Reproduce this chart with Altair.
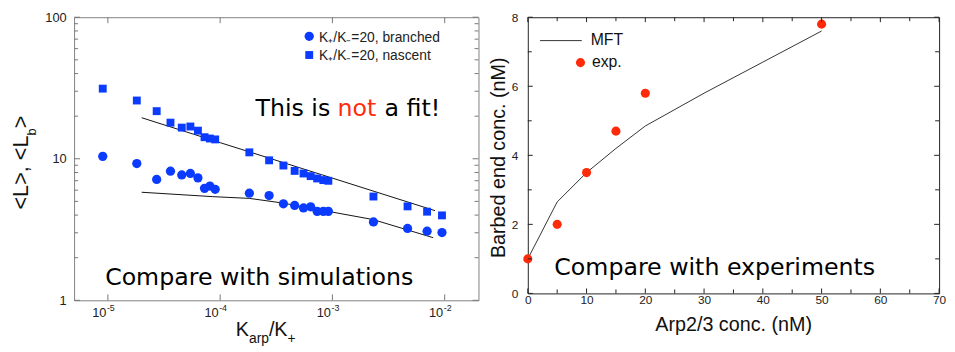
import altair as alt
import pandas as pd

# ---------------- data: left panel (log-log) ----------------
k_ratio = [9e-6, 1.81e-5, 2.72e-5, 3.61e-5, 4.55e-5, 5.43e-5, 6.34e-5, 7.26e-5, 8.1e-5, 9.03e-5,
           1.82e-4, 2.73e-4, 3.66e-4, 4.61e-4, 5.53e-4, 6.4e-4, 7.31e-4, 8.3e-4, 9.2e-4,
           2.32e-3, 4.67e-3, 6.97e-3, 9.46e-3]
nascent = [31.3, 25.8, 21.7, 18.0, 16.6, 16.9, 15.8, 14.2, 13.9, 13.7,
           11.1, 9.75, 8.96, 8.21, 7.87, 7.54, 7.26, 7.07, 6.99,
           5.41, 4.61, 4.23, 3.98]
branched = [10.4, 9.25, 7.14, 8.17, 7.69, 7.87, 7.33, 6.18, 6.42, 6.09,
            5.71, 5.50, 4.81, 4.68, 4.49, 4.58, 4.25, 4.25, 4.25,
            3.58, 3.22, 3.08, 3.01]
theory_nascent_x = [2e-5, 1e-4, 1e-3, 8.2e-3]
theory_nascent_y = [19.5, 13.0, 7.3, 4.3]
theory_branched_x = [2e-5, 8.6e-5, 1.82e-4, 3.6e-4, 2.3e-3, 7.9e-3]
theory_branched_y = [5.8, 5.4, 5.25, 4.87, 3.72, 2.77]

left_x_ticks = [1e-5, 1e-4, 1e-3, 1e-2]
left_x_base = ["10", "10", "10", "10"]
left_x_exp = ["-5", "-4", "-3", "-2"]
left_y_major = [1, 10, 100]
left_y_minor = [2, 3, 4, 5, 6, 7, 8, 9, 20, 30, 40, 50, 60, 70, 80, 90]

# ---------------- data: right panel ----------------
arp_conc = [0, 5, 10, 15, 20, 50]
barbed_exp = [1.0, 2.0, 3.5, 4.7, 5.8, 7.8]
mft_x = [0, 5, 10, 15, 20, 30, 40, 50]
mft_y = [1.0, 2.65, 3.5, 4.2, 4.85, 5.8, 6.7, 7.6]

right_x_major = [0, 10, 20, 30, 40, 50, 60, 70]
right_x_minor = [5, 15, 25, 35, 45, 55, 65]
right_y_major = [0, 2, 4, 6, 8]
right_y_minor = [1, 3, 5, 7]

BLUE = "#0b3bff"
RED = "#ff2a0a"
SANS = "Liberation Sans"
COMIC = "DejaVu Sans"

W1, H1 = 410, 287
W2, H2 = 417, 280


def txt(s, x, y, size, color="#000", font=SANS, align="left", baseline="alphabetic", angle=0):
    return alt.Chart(pd.DataFrame({"t": [s]})).mark_text(
        align=align, baseline=baseline, fontSize=size, font=font, color=color, angle=angle
    ).encode(x=alt.value(x), y=alt.value(y), text="t:N")


# ---------------- left chart ----------------
xs1 = alt.Scale(type="log", domain=[5e-6, 2e-2])
ys1 = alt.Scale(type="log", domain=[1, 100])
xax1 = alt.Axis(values=left_x_ticks, labels=False, ticks=False, domain=False, grid=False,
                title=None)
yax1 = alt.Axis(values=left_y_major, format="d", ticks=False, domain=False, grid=False,
                title=None, labelFont=SANS, labelFontSize=13, labelColor="#222",
                labelPadding=8)

pts = pd.DataFrame({"x": k_ratio, "nascent": nascent, "branched": branched})
lines = pd.concat([
    pd.DataFrame({"x": theory_nascent_x, "y": theory_nascent_y, "s": "nascent"}),
    pd.DataFrame({"x": theory_branched_x, "y": theory_branched_y, "s": "branched"}),
])

X1 = lambda f: alt.X(f, scale=xs1, axis=xax1)
Y1 = lambda f: alt.Y(f, scale=ys1, axis=yax1)

line_layer = alt.Chart(lines).mark_line(color="#111", strokeWidth=1).encode(
    x=X1("x:Q"), y=Y1("y:Q"), detail="s:N")
sq_layer = alt.Chart(pts).mark_square(size=64, color=BLUE, opacity=1).encode(
    x=X1("x:Q"), y=Y1("nascent:Q"))
ci_layer = alt.Chart(pts).mark_circle(size=88, color=BLUE, opacity=1).encode(
    x=X1("x:Q"), y=Y1("branched:Q"))

TC1 = "#777"
def yticks1(vals, ln):
    d = pd.DataFrame({"v": vals})
    a = alt.Chart(d).mark_rule(color=TC1, strokeWidth=1).encode(
        y=Y1("v:Q"), x=alt.value(0), x2=alt.value(ln))
    b = alt.Chart(d).mark_rule(color=TC1, strokeWidth=1).encode(
        y=Y1("v:Q"), x=alt.value(W1), x2=alt.value(W1 - ln))
    return [a, b]

def xticks1(vals, ln):
    d = pd.DataFrame({"v": vals})
    a = alt.Chart(d).mark_rule(color=TC1, strokeWidth=1).encode(
        x=X1("v:Q"), y=alt.value(H1), y2=alt.value(H1 - ln))
    b = alt.Chart(d).mark_rule(color=TC1, strokeWidth=1).encode(
        x=X1("v:Q"), y=alt.value(0), y2=alt.value(ln))
    return [a, b]

left_layers = [line_layer, sq_layer, ci_layer]
left_layers += yticks1(left_y_major, 6) + yticks1(left_y_minor, 4) + xticks1(left_x_ticks, 6)

# x tick labels as 10^n with superscript
xl = pd.DataFrame({"v": left_x_ticks, "b": left_x_base, "e": left_x_exp})
left_layers.append(alt.Chart(xl).mark_text(align="right", baseline="alphabetic", fontSize=13,
                                           font=SANS, color="#222", dx=-1.5)
                   .encode(x=X1("v:Q"), y=alt.value(H1 + 17.3), text="b:N"))
left_layers.append(alt.Chart(xl).mark_text(align="left", baseline="alphabetic", fontSize=9,
                                           font=SANS, color="#222", dx=-1)
                   .encode(x=X1("v:Q"), y=alt.value(H1 + 11.3), text="e:N"))

# legend
left_layers.append(alt.Chart(pd.DataFrame({"a": [0]})).mark_circle(size=88, color=BLUE, opacity=1)
                   .encode(x=alt.value(238.4), y=alt.value(19.3)))
left_layers.append(alt.Chart(pd.DataFrame({"a": [0]})).mark_square(size=64, color=BLUE, opacity=1)
                   .encode(x=alt.value(238.4), y=alt.value(38.3)))
left_layers.append(txt("K₊/K₋=20, branched", 248.4, 25, 14, "#222"))
left_layers.append(txt("K₊/K₋=20, nascent", 248.4, 43.3, 14, "#222"))

# annotations
left_layers.append(txt("This is", 259.7, 100, 24, "#000", COMIC, align="right"))
left_layers.append(txt("not", 286.7, 100, 24, RED, COMIC, align="center"))
left_layers.append(txt("a fit!", 314.7, 100, 24, "#000", COMIC, align="left"))
left_layers.append(txt("Compare with simulations", 187.7, 271, 24, "#000", COMIC, align="center"))

# y title  <L>, <L_b>
left_layers.append(txt("<L>, <L", -46.6, 195, 22, "#111", angle=270))
left_layers.append(txt("b", -38.5, 119.8, 13, "#111", angle=270))
left_layers.append(txt(">", -46.6, 112.6, 22, "#111", angle=270))
# x title K_arp / K_+
left_layers.append(txt("K", 164, 323.3, 20, "#111"))
left_layers.append(txt("arp", 177.3, 330, 14, "#111"))
left_layers.append(txt("/K", 197.5, 323.3, 20, "#111"))
left_layers.append(txt("+", 216.4, 330, 14, "#111"))

left = alt.layer(*left_layers).properties(
    width=W1, height=H1, view=alt.ViewBackground(stroke="#808080", strokeWidth=1))

# ---------------- right chart ----------------
xs2 = alt.Scale(domain=[0, 70], nice=False)
ys2 = alt.Scale(domain=[0, 8], nice=False)
xax2 = alt.Axis(values=right_x_major, ticks=False, domain=False, grid=False, title=None,
                labelFont=SANS, labelFontSize=12, labelColor="#222", labelPadding=1,
                labelFlush=False)
yax2 = alt.Axis(values=right_y_major, ticks=False, domain=False, grid=False, title=None,
                labelFont=SANS, labelFontSize=12, labelColor="#222", labelPadding=10)
X2 = lambda f: alt.X(f, scale=xs2, axis=xax2)
Y2 = lambda f: alt.Y(f, scale=ys2, axis=yax2)

mft = alt.Chart(pd.DataFrame({"x": mft_x, "y": mft_y})).mark_line(color="#333", strokeWidth=1).encode(
    x=X2("x:Q"), y=Y2("y:Q"))
exp = alt.Chart(pd.DataFrame({"x": arp_conc, "y": barbed_exp})).mark_circle(
    size=85, color=RED, opacity=1).encode(x=X2("x:Q"), y=Y2("y:Q"))

TC2 = "#222"
def yticks2(vals, ln):
    d = pd.DataFrame({"v": vals})
    a = alt.Chart(d).mark_rule(color=TC2, strokeWidth=1).encode(
        y=Y2("v:Q"), x=alt.value(0), x2=alt.value(ln))
    b = alt.Chart(d).mark_rule(color=TC2, strokeWidth=1).encode(
        y=Y2("v:Q"), x=alt.value(W2), x2=alt.value(W2 - ln))
    return [a, b]

def xticks2(vals, ln):
    d = pd.DataFrame({"v": vals})
    a = alt.Chart(d).mark_rule(color=TC2, strokeWidth=1).encode(
        x=X2("v:Q"), y=alt.value(H2), y2=alt.value(H2 - ln))
    b = alt.Chart(d).mark_rule(color=TC2, strokeWidth=1).encode(
        x=X2("v:Q"), y=alt.value(0), y2=alt.value(ln))
    return [a, b]

right_layers = [mft, exp]
right_layers += yticks2(right_y_major, 5) + yticks2(right_y_minor, 4)
right_layers += xticks2(right_x_major, 5) + xticks2(right_x_minor, 4)

# legend
right_layers.append(alt.Chart(pd.DataFrame({"a": [0]})).mark_rule(color="#333", strokeWidth=1)
                    .encode(x=alt.value(12.4), x2=alt.value(54.7), y=alt.value(23.7)))
right_layers.append(txt("MFT", 63.7, 28.3, 16, "#111"))
right_layers.append(alt.Chart(pd.DataFrame({"a": [0]})).mark_circle(size=85, color=RED, opacity=1)
                    .encode(x=alt.value(53.4), y=alt.value(46)))
right_layers.append(txt("exp.", 65, 50.7, 16, "#111"))
right_layers.append(txt("Compare with experiments", 189.5, 261, 24, "#000", COMIC, align="center"))
# axis titles
right_layers.append(txt("Barbed end conc. (nM)", -23.3, 142.5, 20, "#111", align="center", angle=270))
right_layers.append(txt("Arp2/3 conc. (nM)", 208.7, 318.3, 20, "#111", align="center"))

right = alt.layer(*right_layers).properties(
    width=W2, height=H2, view=alt.ViewBackground(stroke="#222", strokeWidth=1))

chart = alt.hconcat(left, right, spacing=9).properties(
    padding={"left": 1, "top": 0, "right": 0, "bottom": 0},
    background="white",
)

chart.save("out.html", embed_options={"renderer": "svg", "actions": False})
